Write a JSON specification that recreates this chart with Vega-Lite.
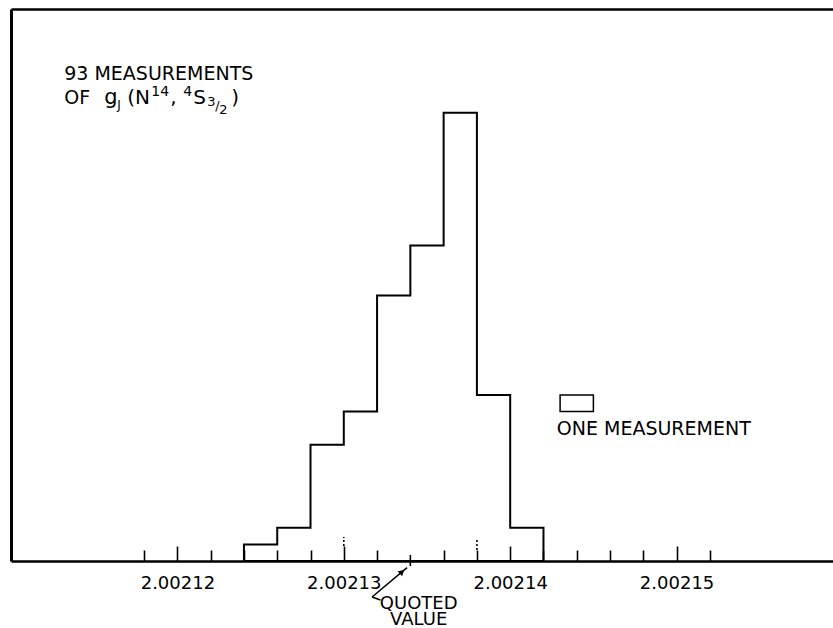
{
  "$schema": "https://vega.github.io/schema/vega-lite/v6.json",
  "width": 822,
  "height": 552,
  "autosize": "none",
  "padding": {"left": 11, "top": 9, "right": 0, "bottom": 67},
  "background": "white",
  "config": {"view": {"stroke": null}, "font": "DejaVu Sans", "axis": {"grid": false}},
  "data": {"values": [
    {"lo": 2.002124, "hi": 2.002126, "count": 1},
    {"lo": 2.002126, "hi": 2.002128, "count": 2},
    {"lo": 2.002128, "hi": 2.00213, "count": 7},
    {"lo": 2.00213, "hi": 2.002132, "count": 9},
    {"lo": 2.002132, "hi": 2.002134, "count": 16},
    {"lo": 2.002134, "hi": 2.002136, "count": 19},
    {"lo": 2.002136, "hi": 2.002138, "count": 27},
    {"lo": 2.002138, "hi": 2.00214, "count": 10},
    {"lo": 2.00214, "hi": 2.002142, "count": 2}
  ]},
  "resolve": {"axis": {"x": "independent", "y": "independent"}},
  "layer": [
    {
      "transform": [{"fold": ["lo", "hi"], "as": ["edge", "g"]}],
      "mark": {"type": "area", "fill": "white", "fillOpacity": 1, "opacity": 1, "stroke": "black", "strokeWidth": 2, "interpolate": "linear"},
      "encoding": {
        "x": {"field": "g", "type": "quantitative",
          "scale": {"domain": [2.00211, 2.0021594], "nice": false, "zero": false},
          "axis": {
            "orient": "bottom", "title": null, "zindex": 1,
            "values": [2.002118, 2.00212, 2.002122, 2.002124, 2.002126, 2.002128, 2.00213, 2.002132, 2.002136, 2.002138, 2.00214, 2.002142, 2.002144, 2.002146, 2.002148, 2.00215, 2.002152],
            "domainColor": "black", "domainWidth": 2.5,
            "tickColor": "black", "tickWidth": 1.6,
            "tickSize": {"condition": {"test": "abs(datum.value*1e5 - round(datum.value*1e5)) < 1e-4", "value": -15}, "value": -11},
            "labelExpr": "abs(datum.value*1e5 - round(datum.value*1e5)) < 1e-4 ? format(datum.value, '.5f') : ''",
            "labelOverlap": false, "labelFlush": false,
            "labelFont": "DejaVu Sans", "labelFontSize": 18, "labelColor": "black",
            "labelPadding": 28
          }
        },
        "y": {"field": "count", "type": "quantitative", "stack": null,
          "scale": {"domain": [0, 33.25], "nice": false},
          "axis": {"orient": "left", "title": null, "domain": true, "domainColor": "black", "domainWidth": 3, "ticks": false, "labels": false}
        }
      }
    },
    {
      "data": {"values": [{}]},
      "mark": {"type": "rect", "fill": "white", "stroke": "black", "strokeWidth": 1.5},
      "encoding": {
        "x": {"datum": 2.002143, "type": "quantitative",
          "axis": {"orient": "top", "title": null, "domain": true, "domainColor": "black", "domainWidth": 2.5, "ticks": false, "labels": false}},
        "x2": {"datum": 2.002145},
        "y": {"datum": 9, "type": "quantitative", "axis": null},
        "y2": {"datum": 10}
      }
    },
    {
      "data": {"values": [{}]},
      "mark": {"type": "rule", "color": "black", "strokeWidth": 1.6, "strokeDash": [2, 2], "zindex": 2},
      "encoding": {
        "x": {"datum": 2.00213, "type": "quantitative", "axis": null},
        "y": {"datum": 0.9, "type": "quantitative", "axis": null},
        "y2": {"datum": 1.45}
      }
    },
    {
      "data": {"values": [{}]},
      "mark": {"type": "rule", "color": "black", "strokeWidth": 1.6, "strokeDash": [2, 2], "zindex": 2},
      "encoding": {
        "x": {"datum": 2.002138, "type": "quantitative", "axis": null},
        "y": {"datum": 0.66, "type": "quantitative", "axis": null},
        "y2": {"datum": 1.3}
      }
    },
    {
      "data": {"values": [{}]},
      "mark": {"type": "text", "text": "ONE MEASUREMENT", "align": "left", "baseline": "alphabetic", "fontSize": 19, "font": "DejaVu Sans", "color": "black"},
      "encoding": {
        "x": {"datum": 2.0021428, "type": "quantitative", "axis": null},
        "y": {"datum": 7.6, "type": "quantitative", "axis": null}
      }
    },
    {
      "data": {"values": [{}]},
      "mark": {"type": "text", "text": "93 MEASUREMENTS", "align": "left", "baseline": "alphabetic", "fontSize": 19, "font": "DejaVu Sans", "color": "black"},
      "encoding": {
        "x": {"datum": 2.0021132, "type": "quantitative", "axis": null},
        "y": {"datum": 29.0, "type": "quantitative", "axis": null}
      }
    },
    {
      "data": {"values": [{}]},
      "mark": {"type": "text", "text": "OF", "align": "left", "baseline": "alphabetic", "fontSize": 19, "font": "DejaVu Sans", "color": "black"},
      "encoding": {
        "x": {"datum": 2.0021132, "type": "quantitative", "axis": null},
        "y": {"datum": 27.5, "type": "quantitative", "axis": null}
      }
    },
    {
      "data": {"values": [{}]},
      "mark": {"type": "text", "text": "g", "align": "left", "baseline": "alphabetic", "fontSize": 21, "font": "DejaVu Sans", "color": "black", "dx": 40},
      "encoding": {
        "x": {"datum": 2.0021132, "type": "quantitative", "axis": null},
        "y": {"datum": 27.5, "type": "quantitative", "axis": null}
      }
    },
    {
      "data": {"values": [{}]},
      "mark": {"type": "text", "text": "J", "align": "left", "baseline": "alphabetic", "fontSize": 12, "font": "DejaVu Sans", "color": "black", "dx": 53, "dy": 5},
      "encoding": {
        "x": {"datum": 2.0021132, "type": "quantitative", "axis": null},
        "y": {"datum": 27.5, "type": "quantitative", "axis": null}
      }
    },
    {
      "data": {"values": [{}]},
      "mark": {"type": "text", "text": "(N", "align": "left", "baseline": "alphabetic", "fontSize": 20, "font": "DejaVu Sans", "color": "black", "dx": 63},
      "encoding": {
        "x": {"datum": 2.0021132, "type": "quantitative", "axis": null},
        "y": {"datum": 27.5, "type": "quantitative", "axis": null}
      }
    },
    {
      "data": {"values": [{}]},
      "mark": {"type": "text", "text": "14", "align": "left", "baseline": "alphabetic", "fontSize": 14, "font": "DejaVu Sans", "color": "black", "dx": 87, "dy": -8},
      "encoding": {
        "x": {"datum": 2.0021132, "type": "quantitative", "axis": null},
        "y": {"datum": 27.5, "type": "quantitative", "axis": null}
      }
    },
    {
      "data": {"values": [{}]},
      "mark": {"type": "text", "text": ",", "align": "left", "baseline": "alphabetic", "fontSize": 20, "font": "DejaVu Sans", "color": "black", "dx": 106},
      "encoding": {
        "x": {"datum": 2.0021132, "type": "quantitative", "axis": null},
        "y": {"datum": 27.5, "type": "quantitative", "axis": null}
      }
    },
    {
      "data": {"values": [{}]},
      "mark": {"type": "text", "text": "4", "align": "left", "baseline": "alphabetic", "fontSize": 14, "font": "DejaVu Sans", "color": "black", "dx": 119, "dy": -8},
      "encoding": {
        "x": {"datum": 2.0021132, "type": "quantitative", "axis": null},
        "y": {"datum": 27.5, "type": "quantitative", "axis": null}
      }
    },
    {
      "data": {"values": [{}]},
      "mark": {"type": "text", "text": "S", "align": "left", "baseline": "alphabetic", "fontSize": 20, "font": "DejaVu Sans", "color": "black", "dx": 129},
      "encoding": {
        "x": {"datum": 2.0021132, "type": "quantitative", "axis": null},
        "y": {"datum": 27.5, "type": "quantitative", "axis": null}
      }
    },
    {
      "data": {"values": [{}]},
      "mark": {"type": "text", "text": "3", "align": "left", "baseline": "alphabetic", "fontSize": 13, "font": "DejaVu Sans", "color": "black", "dx": 143, "dy": 2},
      "encoding": {
        "x": {"datum": 2.0021132, "type": "quantitative", "axis": null},
        "y": {"datum": 27.5, "type": "quantitative", "axis": null}
      }
    },
    {
      "data": {"values": [{}]},
      "mark": {"type": "text", "text": "/", "align": "left", "baseline": "alphabetic", "fontSize": 13, "font": "DejaVu Sans", "color": "black", "dx": 151, "dy": 6},
      "encoding": {
        "x": {"datum": 2.0021132, "type": "quantitative", "axis": null},
        "y": {"datum": 27.5, "type": "quantitative", "axis": null}
      }
    },
    {
      "data": {"values": [{}]},
      "mark": {"type": "text", "text": "2", "align": "left", "baseline": "alphabetic", "fontSize": 13, "font": "DejaVu Sans", "color": "black", "dx": 155, "dy": 10},
      "encoding": {
        "x": {"datum": 2.0021132, "type": "quantitative", "axis": null},
        "y": {"datum": 27.5, "type": "quantitative", "axis": null}
      }
    },
    {
      "data": {"values": [{}]},
      "mark": {"type": "text", "text": ")", "align": "left", "baseline": "alphabetic", "fontSize": 20, "font": "DejaVu Sans", "color": "black", "dx": 167},
      "encoding": {
        "x": {"datum": 2.0021132, "type": "quantitative", "axis": null},
        "y": {"datum": 27.5, "type": "quantitative", "axis": null}
      }
    },
    {
      "data": {"values": [{}]},
      "mark": {"type": "rule", "color": "black", "strokeWidth": 1.6},
      "encoding": {
        "x": {"datum": 2.002134, "type": "quantitative", "axis": null},
        "y": {"datum": -0.3, "type": "quantitative", "axis": null},
        "y2": {"datum": 0.36}
      }
    },
    {
      "data": {"values": [{}]},
      "mark": {"type": "rule", "color": "black", "strokeWidth": 1.5},
      "encoding": {
        "x": {"datum": 2.0021317, "type": "quantitative", "axis": null},
        "y": {"datum": -2.17, "type": "quantitative", "axis": null},
        "x2": {"datum": 2.0021338},
        "y2": {"datum": -0.4}
      }
    },
    {
      "data": {"values": [{}]},
      "mark": {"type": "rule", "color": "black", "strokeWidth": 1.5},
      "encoding": {
        "x": {"datum": 2.0021317, "type": "quantitative", "axis": null},
        "y": {"datum": -2.17, "type": "quantitative", "axis": null},
        "x2": {"datum": 2.0021322},
        "y2": {"datum": -2.35}
      }
    },
    {
      "data": {"values": [{}]},
      "mark": {"type": "point", "shape": "triangle-up", "filled": true, "color": "black", "size": 45, "angle": 49, "opacity": 1},
      "encoding": {
        "x": {"datum": 2.0021335, "type": "quantitative", "axis": null},
        "y": {"datum": -0.65, "type": "quantitative", "axis": null}
      }
    },
    {
      "data": {"values": [{}]},
      "mark": {"type": "text", "text": "QUOTED", "align": "center", "baseline": "alphabetic", "fontSize": 18, "font": "DejaVu Sans", "color": "black"},
      "encoding": {
        "x": {"datum": 2.0021345, "type": "quantitative", "axis": null},
        "y": {"datum": -2.9, "type": "quantitative", "axis": null}
      }
    },
    {
      "data": {"values": [{}]},
      "mark": {"type": "text", "text": "VALUE", "align": "center", "baseline": "alphabetic", "fontSize": 18, "font": "DejaVu Sans", "color": "black"},
      "encoding": {
        "x": {"datum": 2.0021345, "type": "quantitative", "axis": null},
        "y": {"datum": -3.85, "type": "quantitative", "axis": null}
      }
    }
  ]
}
